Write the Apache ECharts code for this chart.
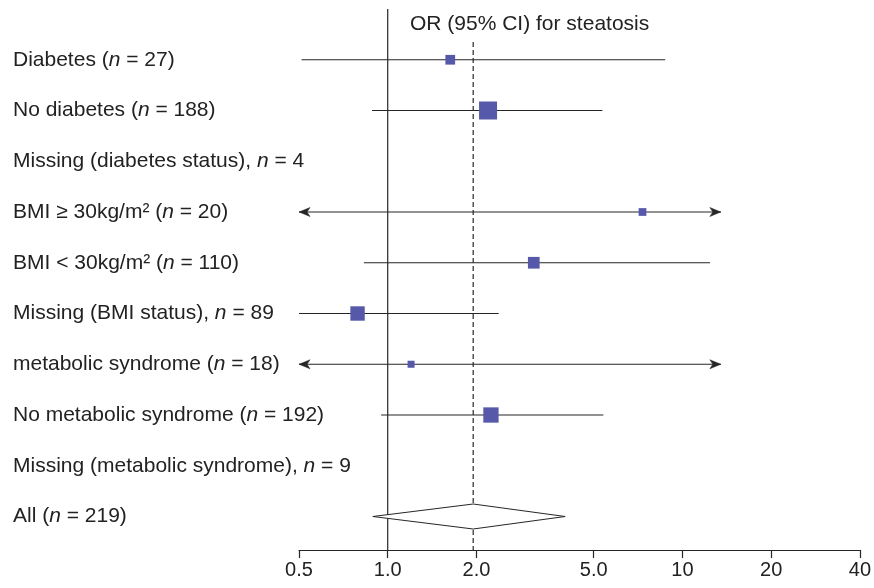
<!DOCTYPE html>
<html><head><meta charset="utf-8">
<script src="https://cdn.jsdelivr.net/npm/echarts@6/dist/echarts.min.js"></script>
<style>html,body{margin:0;padding:0;background:#fff}#c{width:874px;height:588px}</style>
</head><body><div id="c"></div>
<script>
// ---- data ----
const rowLabels = [
  'Diabetes ({it|n} = 27)',
  'No diabetes ({it|n} = 188)',
  'Missing (diabetes status), {it|n} = 4',
  'BMI \u2265 30kg/m\u00b2 ({it|n} = 20)',
  'BMI < 30kg/m\u00b2 ({it|n} = 110)',
  'Missing (BMI status), {it|n} = 89',
  'metabolic syndrome ({it|n} = 18)',
  'No metabolic syndrome ({it|n} = 192)',
  'Missing (metabolic syndrome), {it|n} = 9',
  'All ({it|n} = 219)'
];
const oddsRatio = [1.63, 2.19, null, 7.32, 3.13, 0.79, 1.20, 2.24, null, 1.95];
const ciLower   = [0.51, 0.885, null, 0.5, 0.83, 0.5, 0.5, 0.95, null, 0.89];
const ciUpper   = [8.74, 5.35, null, 13.5, 12.4, 2.38, 13.5, 5.39, null, 4.0];
const clippedLower = [false, false, false, true, false, false, true, false, false, false];
const clippedUpper = [false, false, false, true, false, false, true, false, false, false];
const boxWeight = [0.54, 1.0, null, 0.43, 0.65, 0.8, 0.39, 0.85, null, null];
const summaryRow = 9;
const nullValue = 1.0;
const pooledValue = 1.95;
const xTicks = [0.5, 1, 2, 5, 10, 20, 40];
const xTickLabels = ['0.5', '1.0', '2.0', '5.0', '10', '20', '40'];
const titleText = 'OR (95% CI) for steatosis';

// ---- build chart ----
const FONT = 'Liberation Sans, Arial, sans-serif';
const rowIdx = rowLabels.map((_, i) => i);
const studyData = [];
rowIdx.forEach(i => {
  if (i !== summaryRow && oddsRatio[i] != null) {
    studyData.push([i, ciLower[i], oddsRatio[i], ciUpper[i], boxWeight[i], clippedLower[i] ? 1 : 0, clippedUpper[i] ? 1 : 0]);
  }
});
const summaryData = [[summaryRow, ciLower[summaryRow], oddsRatio[summaryRow], ciUpper[summaryRow]]];

const LINE = '#262626';
const BOX = '#5659a9';
const BOX_MAX = 18;

function arrowHead(x, y, dir) {
  const L = 11, H = 4.5, N = 3;
  return {
    type: 'polygon',
    shape: { points: [[x, y], [x + dir * L, y - H], [x + dir * (L - N), y], [x + dir * L, y + H]] },
    style: { fill: LINE, stroke: LINE, lineWidth: 0.5 }
  };
}

function renderStudy(params, api) {
  const row = api.value(0), lo = api.value(1), est = api.value(2), hi = api.value(3);
  const w = api.value(4), aL = api.value(5), aR = api.value(6);
  const pL = api.coord([lo, row]), pE = api.coord([est, row]), pH = api.coord([hi, row]);
  const s = BOX_MAX * w;
  const children = [
    { type: 'line', shape: { x1: pL[0], y1: pL[1], x2: pH[0], y2: pH[1] }, style: { stroke: LINE, lineWidth: 1.2 } }
  ];
  if (aL) children.push(arrowHead(pL[0], pL[1], 1));
  if (aR) children.push(arrowHead(pH[0], pH[1], -1));
  children.push({ type: 'rect', shape: { x: pE[0] - s / 2, y: pE[1] - s / 2, width: s, height: s }, style: { fill: BOX } });
  return { type: 'group', children };
}

function renderSummary(params, api) {
  const row = api.value(0), lo = api.value(1), est = api.value(2), hi = api.value(3);
  const pL = api.coord([lo, row]), pE = api.coord([est, row]), pH = api.coord([hi, row]);
  const h = 12.5;
  return {
    type: 'polygon',
    shape: { points: [[pL[0], pL[1]], [pE[0], pE[1] - h], [pH[0], pH[1]], [pE[0], pE[1] + h]] },
    style: { fill: '#fff', stroke: LINE, lineWidth: 1 }
  };
}

function nearestTickLabel(v) {
  let best = 0, bd = Infinity;
  xTicks.forEach((t, k) => { const d = Math.abs(Math.log(v) - Math.log(t)); if (d < bd) { bd = d; best = k; } });
  return xTickLabels[best];
}

const chart = echarts.init(document.getElementById('c'), null, { renderer: 'canvas' });
chart.setOption({
  animation: false,
  backgroundColor: '#fff',
  title: {
    text: titleText, left: 405, top: 9,
    textStyle: { fontFamily: FONT, fontSize: 21, fontWeight: 'normal', color: '#222' }
  },
  grid: { left: 299, right: 11, top: 9, bottom: 38 },
  xAxis: {
    type: 'log', min: 0.5, max: 40,
    axisLine: { show: true, onZero: false, lineStyle: { color: LINE, width: 1.2 } },
    axisTick: { show: true, length: 8, customValues: xTicks, lineStyle: { color: LINE, width: 1.2 } },
    axisLabel: {
      customValues: xTicks, margin: 10, color: '#222', fontSize: 20,
      fontFamily: FONT,
      formatter: v => nearestTickLabel(v)
    },
    splitLine: { show: false }, minorTick: { show: false }
  },
  yAxis: {
    type: 'value', min: -1, max: 9.66, inverse: true,
    axisLine: { show: false }, axisTick: { show: false }, splitLine: { show: false },
    axisLabel: {
      customValues: rowIdx, align: 'left', margin: 286, color: '#222', fontSize: 21,
      fontFamily: FONT,
      formatter: v => rowLabels[Math.round(v)] || '',
      rich: { it: { fontStyle: 'italic', fontSize: 21, color: '#222', fontFamily: FONT } }
    }
  },
  series: [
    {
      type: 'line', data: [[nullValue, -1], [nullValue, 9.66]], symbol: 'none', silent: true,
      lineStyle: { color: LINE, width: 1.2 }, z: 1
    },
    {
      type: 'line', data: [[pooledValue, -0.35], [pooledValue, 9.66]], symbol: 'none', silent: true,
      lineStyle: { color: LINE, width: 1.2, type: [5, 3] }, z: 1
    },
    {
      type: 'custom', renderItem: renderStudy, data: studyData,
      encode: { x: [1, 2, 3], y: 0 }, z: 3
    },
    {
      type: 'custom', renderItem: renderSummary, data: summaryData,
      encode: { x: [1, 2, 3], y: 0 }, z: 3
    }
  ]
});
</script>
</body></html>
